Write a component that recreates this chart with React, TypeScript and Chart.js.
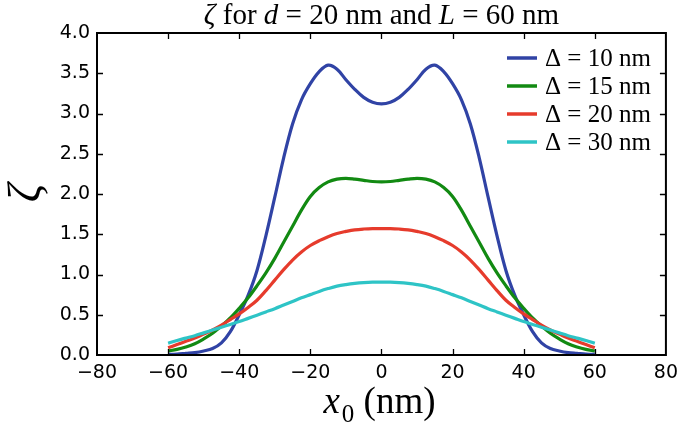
import React, { useEffect, useRef } from 'react';
import { Chart, registerables } from 'chart.js';

Chart.register(...registerables);

// ---------- data ----------
const xValues = [
  -60, -57.5, -55, -52.5, -50, -47.5, -45, -42.5, -40, -37.5, -35, -32.5, -30, -27.5, -25, -22.5, -20, -17.5, -15, -12.5, -10, -7.5, -5, -2.5,
  0,
  2.5, 5, 7.5, 10, 12.5, 15, 17.5, 20, 22.5, 25, 27.5, 30, 32.5, 35, 37.5, 40, 42.5, 45, 47.5, 50, 52.5, 55, 57.5, 60,
];
const zetaDelta10 = [
  0.01, 0.01, 0.02, 0.03, 0.05, 0.08, 0.15, 0.29, 0.5, 0.74, 1.05, 1.48, 1.96, 2.45, 2.87, 3.17, 3.37, 3.52, 3.6, 3.55, 3.42, 3.3, 3.2, 3.14,
  3.12,
  3.14, 3.2, 3.3, 3.42, 3.55, 3.6, 3.52, 3.37, 3.17, 2.87, 2.45, 1.96, 1.48, 1.05, 0.74, 0.5, 0.29, 0.15, 0.08, 0.05, 0.03, 0.02, 0.01, 0.01,
];
const zetaDelta15 = [
  0.05, 0.07, 0.1, 0.14, 0.2, 0.27, 0.36, 0.46, 0.58, 0.71, 0.86, 1.02, 1.2, 1.4, 1.6, 1.8, 1.97, 2.08, 2.15, 2.185, 2.195, 2.185, 2.17, 2.155,
  2.15,
  2.155, 2.17, 2.185, 2.195, 2.185, 2.15, 2.08, 1.97, 1.8, 1.6, 1.4, 1.2, 1.02, 0.86, 0.71, 0.58, 0.46, 0.36, 0.27, 0.2, 0.14, 0.1, 0.07, 0.05,
];
const zetaDelta20 = [
  0.09, 0.13, 0.17, 0.21, 0.26, 0.31, 0.37, 0.44, 0.51, 0.59, 0.68, 0.8, 0.93, 1.06, 1.18, 1.28, 1.36, 1.42, 1.47, 1.51, 1.535, 1.555, 1.565, 1.57,
  1.57,
  1.57, 1.565, 1.555, 1.535, 1.51, 1.47, 1.42, 1.36, 1.28, 1.18, 1.06, 0.93, 0.8, 0.68, 0.59, 0.51, 0.44, 0.37, 0.31, 0.26, 0.21, 0.17, 0.13, 0.09,
];
const zetaDelta30 = [
  0.145, 0.18, 0.21, 0.24, 0.275, 0.31, 0.345, 0.38, 0.415, 0.455, 0.495, 0.535, 0.575, 0.62, 0.665, 0.71, 0.75, 0.79, 0.825, 0.855, 0.875, 0.89, 0.9, 0.905,
  0.905,
  0.905, 0.9, 0.89, 0.875, 0.855, 0.825, 0.79, 0.75, 0.71, 0.665, 0.62, 0.575, 0.535, 0.495, 0.455, 0.415, 0.38, 0.345, 0.31, 0.275, 0.24, 0.21, 0.18, 0.145,
];

const seriesLabels = ['Δ = 10 nm', 'Δ = 15 nm', 'Δ = 20 nm', 'Δ = 30 nm'];
const seriesValues = [zetaDelta10, zetaDelta15, zetaDelta20, zetaDelta30];
const seriesColors = ['#3043a5', '#128a12', '#e63b2c', '#2ec4c6'];

const xTickValues = [-80, -60, -40, -20, 0, 20, 40, 60, 80];
const xTickLabels = ['−80', '−60', '−40', '−20', '0', '20', '40', '60', '80'];
const yTickValues = [0, 0.5, 1, 1.5, 2, 2.5, 3, 3.5, 4];
const yTickLabels = ['0.0', '0.5', '1.0', '1.5', '2.0', '2.5', '3.0', '3.5', '4.0'];

// title pieces: [text, italic]
const titleParts: [string, boolean][] = [
  ['ζ', true], [' for ', false], ['d', true], [' = 20 nm and ', false], ['L', true], [' = 60 nm', false],
];
const yAxisTitle = 'ζ';
const xAxisTitleMain = 'x';
const xAxisTitleSub = '0';
const xAxisTitleUnit = ' (nm)';

const SERIF = "'Liberation Serif', 'DejaVu Serif', serif";
const SANS = "'DejaVu Sans', sans-serif";

const decorPlugin = {
  id: 'decor',
  afterDraw(chart: any) {
    const ctx: CanvasRenderingContext2D = chart.ctx;
    const a = chart.chartArea;
    const xs = chart.scales.x;
    const ys = chart.scales.y;
    ctx.save();
    // frame
    ctx.strokeStyle = '#000';
    ctx.lineWidth = 2;
    ctx.strokeRect(a.left, a.top, a.right - a.left, a.bottom - a.top);
    // inner ticks
    ctx.lineWidth = 1.3;
    const tl = 6;
    xTickValues.forEach((v) => {
      const px = Math.round(xs.getPixelForValue(v)) + 0.5;
      if (px <= a.left + 1 || px >= a.right - 1) return;
      ctx.beginPath();
      ctx.moveTo(px, a.bottom); ctx.lineTo(px, a.bottom - tl);
      ctx.moveTo(px, a.top); ctx.lineTo(px, a.top + tl);
      ctx.stroke();
    });
    yTickValues.forEach((v) => {
      const py = Math.round(ys.getPixelForValue(v)) + 0.5;
      if (py <= a.top + 1 || py >= a.bottom - 1) return;
      ctx.beginPath();
      ctx.moveTo(a.left, py); ctx.lineTo(a.left + tl, py);
      ctx.moveTo(a.right, py); ctx.lineTo(a.right - tl, py);
      ctx.stroke();
    });

    ctx.fillStyle = '#000';
    ctx.textBaseline = 'alphabetic';
    ctx.textAlign = 'left';

    // title
    const tSize = 29;
    let total = 0;
    titleParts.forEach(([t, it]) => {
      ctx.font = `${it ? 'italic ' : ''}${tSize}px ${SERIF}`;
      total += ctx.measureText(t).width;
    });
    let tx = (a.left + a.right) / 2 - total / 2;
    titleParts.forEach(([t, it]) => {
      ctx.font = `${it ? 'italic ' : ''}${tSize}px ${SERIF}`;
      ctx.fillText(t, tx, 24);
      tx += ctx.measureText(t).width;
    });

    // y axis title (rotated)
    ctx.save();
    ctx.translate(28, 193);
    ctx.rotate(-Math.PI / 2);
    ctx.font = `italic 46px ${SERIF}`;
    ctx.textAlign = 'center';
    ctx.textBaseline = 'middle';
    ctx.fillText(yAxisTitle, 0, 0);
    ctx.restore();

    // x axis title
    ctx.textAlign = 'left';
    ctx.textBaseline = 'alphabetic';
    ctx.font = `italic 37px ${SERIF}`;
    const wMain = ctx.measureText(xAxisTitleMain).width;
    ctx.font = `25px ${SERIF}`;
    const wSub = ctx.measureText(xAxisTitleSub).width;
    ctx.font = `37px ${SERIF}`;
    const wUnit = ctx.measureText(xAxisTitleUnit).width;
    let lx = (a.left + a.right) / 2 - (wMain + wSub + 2 + wUnit) / 2 - 2;
    const base = 413;
    ctx.font = `italic 37px ${SERIF}`;
    ctx.fillText(xAxisTitleMain, lx, base);
    lx += wMain + 2;
    ctx.font = `25px ${SERIF}`;
    ctx.fillText(xAxisTitleSub, lx, base + 9);
    lx += wSub;
    ctx.font = `37px ${SERIF}`;
    ctx.fillText(xAxisTitleUnit, lx, base);

    // legend
    ctx.font = `25px ${SERIF}`;
    ctx.textBaseline = 'middle';
    chart.data.datasets.forEach((ds: any, i: number) => {
      const y = 58 + i * 28;
      ctx.strokeStyle = ds.borderColor;
      ctx.lineWidth = 3.5;
      ctx.beginPath();
      ctx.moveTo(507, y); ctx.lineTo(537, y);
      ctx.stroke();
      ctx.fillStyle = '#000';
      ctx.fillText(ds.label, 545, y + 1);
    });
    ctx.restore();
  },
};

export default function App() {
  const ref = useRef<HTMLCanvasElement>(null);
  useEffect(() => {
    if (!ref.current) return;
    const datasets = seriesValues.map((vals, i) => ({
      label: seriesLabels[i],
      data: vals.map((v, j) => ({ x: xValues[j], y: v })),
      borderColor: seriesColors[i],
      backgroundColor: seriesColors[i],
      borderWidth: 3.2,
      pointRadius: 0,
      fill: false,
      tension: 0.35,
      order: seriesValues.length - i,
    }));
    const chart = new Chart(ref.current, {
      type: 'line',
      data: { datasets },
      options: {
        responsive: false,
        animation: false,
        devicePixelRatio: 1,
        layout: { padding: { left: 0, top: 33, right: 18, bottom: 0 } },
        plugins: { legend: { display: false }, title: { display: false }, tooltip: { enabled: false } },
        scales: {
          x: {
            type: 'linear',
            min: -80,
            max: 80,
            afterBuildTicks: (s: any) => { s.ticks = xTickValues.map((v) => ({ value: v })); },
            afterFit: (s: any) => { s.height = 71; },
            grid: { display: false, drawTicks: false },
            border: { display: false },
            ticks: {
              autoSkip: false,
              maxRotation: 0,
              padding: 7,
              color: '#000',
              font: { family: SANS, size: 19 },
              callback: (v: any) => xTickLabels[xTickValues.indexOf(Number(v))] ?? '',
            },
          },
          y: {
            type: 'linear',
            min: 0,
            max: 4,
            afterBuildTicks: (s: any) => { s.ticks = yTickValues.map((v) => ({ value: v })); },
            afterFit: (s: any) => { s.width = 97; },
            grid: { display: false, drawTicks: false },
            border: { display: false },
            ticks: {
              autoSkip: false,
              padding: 7,
              color: '#000',
              font: { family: SANS, size: 19 },
              callback: (v: any) => yTickLabels[yTickValues.indexOf(Number(v))] ?? '',
            },
          },
        },
      },
      plugins: [decorPlugin],
    });
    return () => chart.destroy();
  }, []);
  return (
    <div style={{ position: 'absolute', left: 0, top: 0, width: 685, height: 426, background: '#fff' }}>
      <canvas ref={ref} width={685} height={426} style={{ display: 'block' }} />
    </div>
  );
}
